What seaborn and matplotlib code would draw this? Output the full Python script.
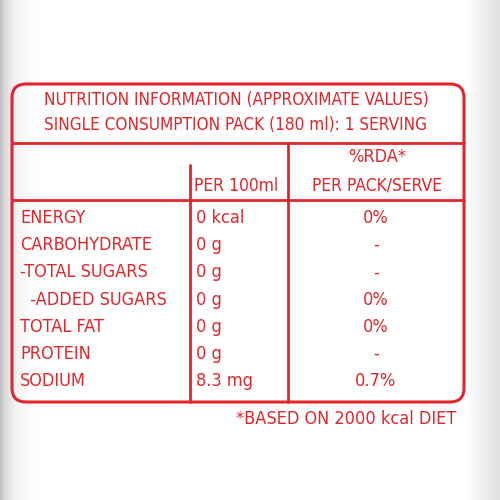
import numpy as np
import matplotlib
matplotlib.use("Agg")
import matplotlib.pyplot as plt
import seaborn as sns
from matplotlib.patches import FancyBboxPatch

sns.set_theme(style="white")
plt.rcParams['font.family'] = ['DejaVu Sans']

RED = "#e0262b"

title_lines = ["NUTRITION INFORMATION (APPROXIMATE VALUES)",
               "SINGLE CONSUMPTION PACK (180 ml): 1 SERVING"]
nutrients = ["ENERGY", "CARBOHYDRATE", "-TOTAL SUGARS", "  -ADDED SUGARS",
             "TOTAL FAT", "PROTEIN", "SODIUM"]
per_100ml = ["0 kcal", "0 g", "0 g", "0 g", "0 g", "0 g", "8.3 mg"]
rda_pack = ["0%", "-", "-", "0%", "0%", "-", "0.7%"]
footer = "*BASED ON 2000 kcal DIET"

fig = plt.figure(figsize=(5, 5), dpi=100)
ax = fig.add_axes([0, 0, 1, 1])
ax.set_xlim(0, 500)
ax.set_ylim(500, 0)
ax.axis("off")

# can-like grey shading at the edges
x = np.linspace(0, 1, 500)
shade = 1 - 0.25 * np.exp(-x / 0.02) - 0.12 * np.clip((x - 0.93) / 0.07, 0, 1)
ax.imshow(np.tile(shade, (10, 1)), cmap="gray", vmin=0, vmax=1,
          extent=[0, 500, 500, 0], aspect="auto", zorder=0)

ax.add_patch(FancyBboxPatch((12, 84), 452, 318, boxstyle="round,pad=0,rounding_size=14",
                            fill=False, edgecolor=RED, lw=2.2, zorder=2))
ax.plot([12, 464], [143, 143], color=RED, lw=2)
ax.plot([12, 464], [200, 200], color=RED, lw=2)
ax.plot([190, 190], [165, 402], color=RED, lw=2)
ax.plot([288, 288], [143, 402], color=RED, lw=2)

kw = dict(color=RED, fontstretch="condensed", va="center")
ax.text(236, 100, title_lines[0], fontsize=12.3, ha="center", **kw)
ax.text(236, 125, title_lines[1], fontsize=12.3, ha="center", **kw)
ax.text(377, 157, "%RDA*", fontsize=13, ha="center", **kw)
ax.text(194, 186, "PER 100ml", fontsize=12.5, ha="left", **kw)
ax.text(377, 186, "PER PACK/SERVE", fontsize=12.5, ha="center", **kw)

for i, (n, p, r) in enumerate(zip(nutrients, per_100ml, rda_pack)):
    y = 218 + i * 27.2
    ax.text(20, y, n, fontsize=13, ha="left", **kw)
    ax.text(196, y, p, fontsize=13, ha="left", **kw)
    ax.text(376, y, r, fontsize=13, ha="center", **kw)

ax.text(456, 419, footer, fontsize=13, ha="right", **kw)

fig.savefig("out.png", dpi=100)
